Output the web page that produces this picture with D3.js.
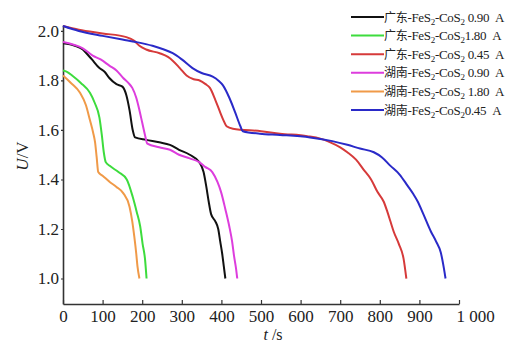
<!DOCTYPE html>
<html>
<head>
<meta charset="utf-8">
<script src="https://cdn.jsdelivr.net/npm/d3@7"></script>
<style>
  body { margin: 0; background: #fff; }
  svg { font-family: "Liberation Serif", "Times New Roman", serif; }
</style>
</head>
<body>
<svg width="521" height="343"></svg>
<script>
// discharge curves, [t (s), U (V)]
var gd090 = [[0,1.95],[30,1.94],[50,1.925],[62,1.905],[73,1.885],[92,1.85],[105,1.835],[117,1.81],[135,1.785],[150,1.775],[160,1.74],[168,1.68],[176,1.60],[182,1.57],[210,1.56],[243,1.55],[270,1.54],[293,1.52],[320,1.50],[344,1.47],[355,1.43],[362,1.37],[368,1.31],[374,1.26],[385,1.23],[392,1.20],[397,1.15],[402,1.10],[406,1.05],[410,1.0]];
var gd180 = [[0,1.84],[10,1.835],[23,1.82],[45,1.79],[68,1.75],[80,1.71],[92,1.65],[98,1.58],[103,1.51],[108,1.47],[118,1.455],[140,1.43],[161,1.40],[176,1.33],[186,1.27],[195,1.21],[201,1.14],[207,1.08],[211,1.0]];
var gd045 = [[0,2.02],[40,2.005],[100,1.99],[160,1.975],[180,1.96],[193,1.94],[210,1.925],[244,1.91],[265,1.895],[277,1.88],[295,1.85],[312,1.82],[330,1.805],[345,1.80],[360,1.785],[371,1.77],[385,1.72],[396,1.675],[405,1.64],[413,1.615],[429,1.605],[500,1.595],[548,1.585],[617,1.575],[650,1.565],[675,1.55],[700,1.53],[718,1.51],[740,1.48],[759,1.44],[778,1.40],[794,1.35],[810,1.31],[819,1.27],[827,1.23],[835,1.19],[848,1.14],[860,1.08],[867,1.0]];
var hn090 = [[0,1.955],[25,1.945],[50,1.93],[75,1.90],[95,1.885],[117,1.86],[135,1.84],[152,1.81],[165,1.79],[175,1.77],[185,1.73],[193,1.68],[200,1.63],[207,1.58],[213,1.545],[243,1.53],[270,1.52],[293,1.50],[320,1.485],[344,1.47],[360,1.45],[377,1.43],[390,1.39],[399,1.35],[410,1.28],[420,1.21],[427,1.15],[432,1.09],[437,1.04],[440,1.0]];
var hn180 = [[0,1.82],[20,1.79],[43,1.75],[58,1.70],[68,1.64],[76,1.59],[81,1.55],[85,1.49],[89,1.43],[100,1.415],[118,1.39],[135,1.37],[152,1.345],[168,1.29],[175,1.23],[180,1.17],[185,1.10],[188,1.05],[193,1.0]];
var hn045 = [[0,2.02],[40,2.0],[100,1.98],[150,1.965],[185,1.955],[226,1.94],[255,1.925],[277,1.91],[300,1.885],[327,1.85],[350,1.83],[378,1.815],[392,1.80],[404,1.78],[420,1.73],[435,1.67],[448,1.615],[454,1.595],[497,1.585],[548,1.58],[624,1.57],[680,1.555],[718,1.54],[750,1.525],[785,1.51],[805,1.49],[827,1.455],[850,1.42],[870,1.375],[885,1.34],[896,1.31],[910,1.26],[929,1.19],[942,1.15],[954,1.105],[962,1.04],[966,1.0]];

var seriesData = [gd090, gd180, gd045, hn090, hn180, hn045];
var seriesPlace = ['广东', '广东', '广东', '湖南', '湖南', '湖南'];
var seriesCurrent = [' 0.90', '1.80', ' 0.45', ' 0.90', ' 1.80', '0.45'];
var colors = ['#111111', '#3ddc3d', '#d63a3a', '#dd3ddd', '#f09a48', '#2a2ac8'];

var xTicks = [0, 100, 200, 300, 400, 500, 600, 700, 800, 900, 1000];
var yTicks = [1.0, 1.2, 1.4, 1.6, 1.8, 2.0];

var svg = d3.select('svg');

var x = d3.scaleLinear().domain([0, 1000]).range([63, 459]);
var y = d3.scaleLinear().domain([0.897, 2.024]).range([304, 25]);

// axes
var xAxis = svg.append('g')
  .attr('transform', 'translate(0,304)')
  .call(d3.axisBottom(x).tickValues(xTicks).tickSize(-4).tickSizeOuter(0).tickPadding(6)
    .tickFormat(function(d){ return d == 1000 ? '1 000' : d; }));

var yAxis = svg.append('g')
  .attr('transform', 'translate(63,0)')
  .call(d3.axisLeft(y).tickValues(yTicks).tickSize(2).tickSizeOuter(0).tickPadding(2)
    .tickFormat(d3.format('.1f')));

svg.selectAll('.domain').attr('stroke', '#333').attr('stroke-width', 1.6);
svg.selectAll('.tick line').attr('stroke', '#333').attr('stroke-width', 1.2);
svg.selectAll('.tick text')
  .attr('fill', '#222')
  .style('font-family', '"Liberation Serif", serif')
  .style('font-size', '17px');

xAxis.selectAll('.tick text').filter(function(d){ return d == 1000; })
  .attr('dx', 16);

// lines
var line = d3.line()
  .x(function(d){ return x(d[0]); })
  .y(function(d){ return y(d[1]); })
  .curve(d3.curveMonotoneX);

svg.selectAll('path.curve')
  .data(seriesData)
  .enter()
  .append('path')
  .attr('class', 'curve')
  .attr('d', line)
  .attr('fill', 'none')
  .attr('stroke', function(d, i){ return colors[i]; })
  .attr('stroke-width', 2)
  .attr('stroke-linejoin', 'round');

// axis titles
svg.append('text')
  .attr('transform', 'translate(28,156) rotate(-90)')
  .attr('text-anchor', 'middle')
  .style('font-size', '17px')
  .attr('fill', '#222')
  .html('<tspan font-style="italic">U</tspan>/V');

svg.append('text')
  .attr('x', 273)
  .attr('y', 340)
  .attr('text-anchor', 'middle')
  .style('font-size', '16px')
  .attr('fill', '#222')
  .html('<tspan font-style="italic">t</tspan> /s');

// legend
var legend = svg.append('g');
var rows = legend.selectAll('g.row')
  .data(seriesData)
  .enter()
  .append('g')
  .attr('class', 'row')
  .attr('transform', function(d, i){ return 'translate(0,' + (17 + i * 18.6) + ')'; });

rows.append('line')
  .attr('x1', 351).attr('x2', 384)
  .attr('y1', 0).attr('y2', 0)
  .attr('stroke', function(d, i){ return colors[i]; })
  .attr('stroke-width', 2);

var lt = rows.append('text')
  .attr('x', 384)
  .attr('y', 4.5)
  .style('font-size', '13px')
  .attr('fill', '#222')
  .attr('letter-spacing', '-0.3');

lt.each(function(d, i){
  var t = d3.select(this);
  t.append('tspan').style('font-family', '"Noto Sans CJK SC", sans-serif').style('font-size', '12px').text(seriesPlace[i]);
  t.append('tspan').text('-FeS');
  t.append('tspan').attr('dy', 3).style('font-size', '9px').text('2');
  t.append('tspan').attr('dy', -3).text('-CoS');
  t.append('tspan').attr('dy', 3).style('font-size', '9px').text('2');
  t.append('tspan').attr('dy', -3).attr('xml:space', 'preserve').text(seriesCurrent[i] + '\u00a0\u00a0A');
});
</script>
</body>
</html>
